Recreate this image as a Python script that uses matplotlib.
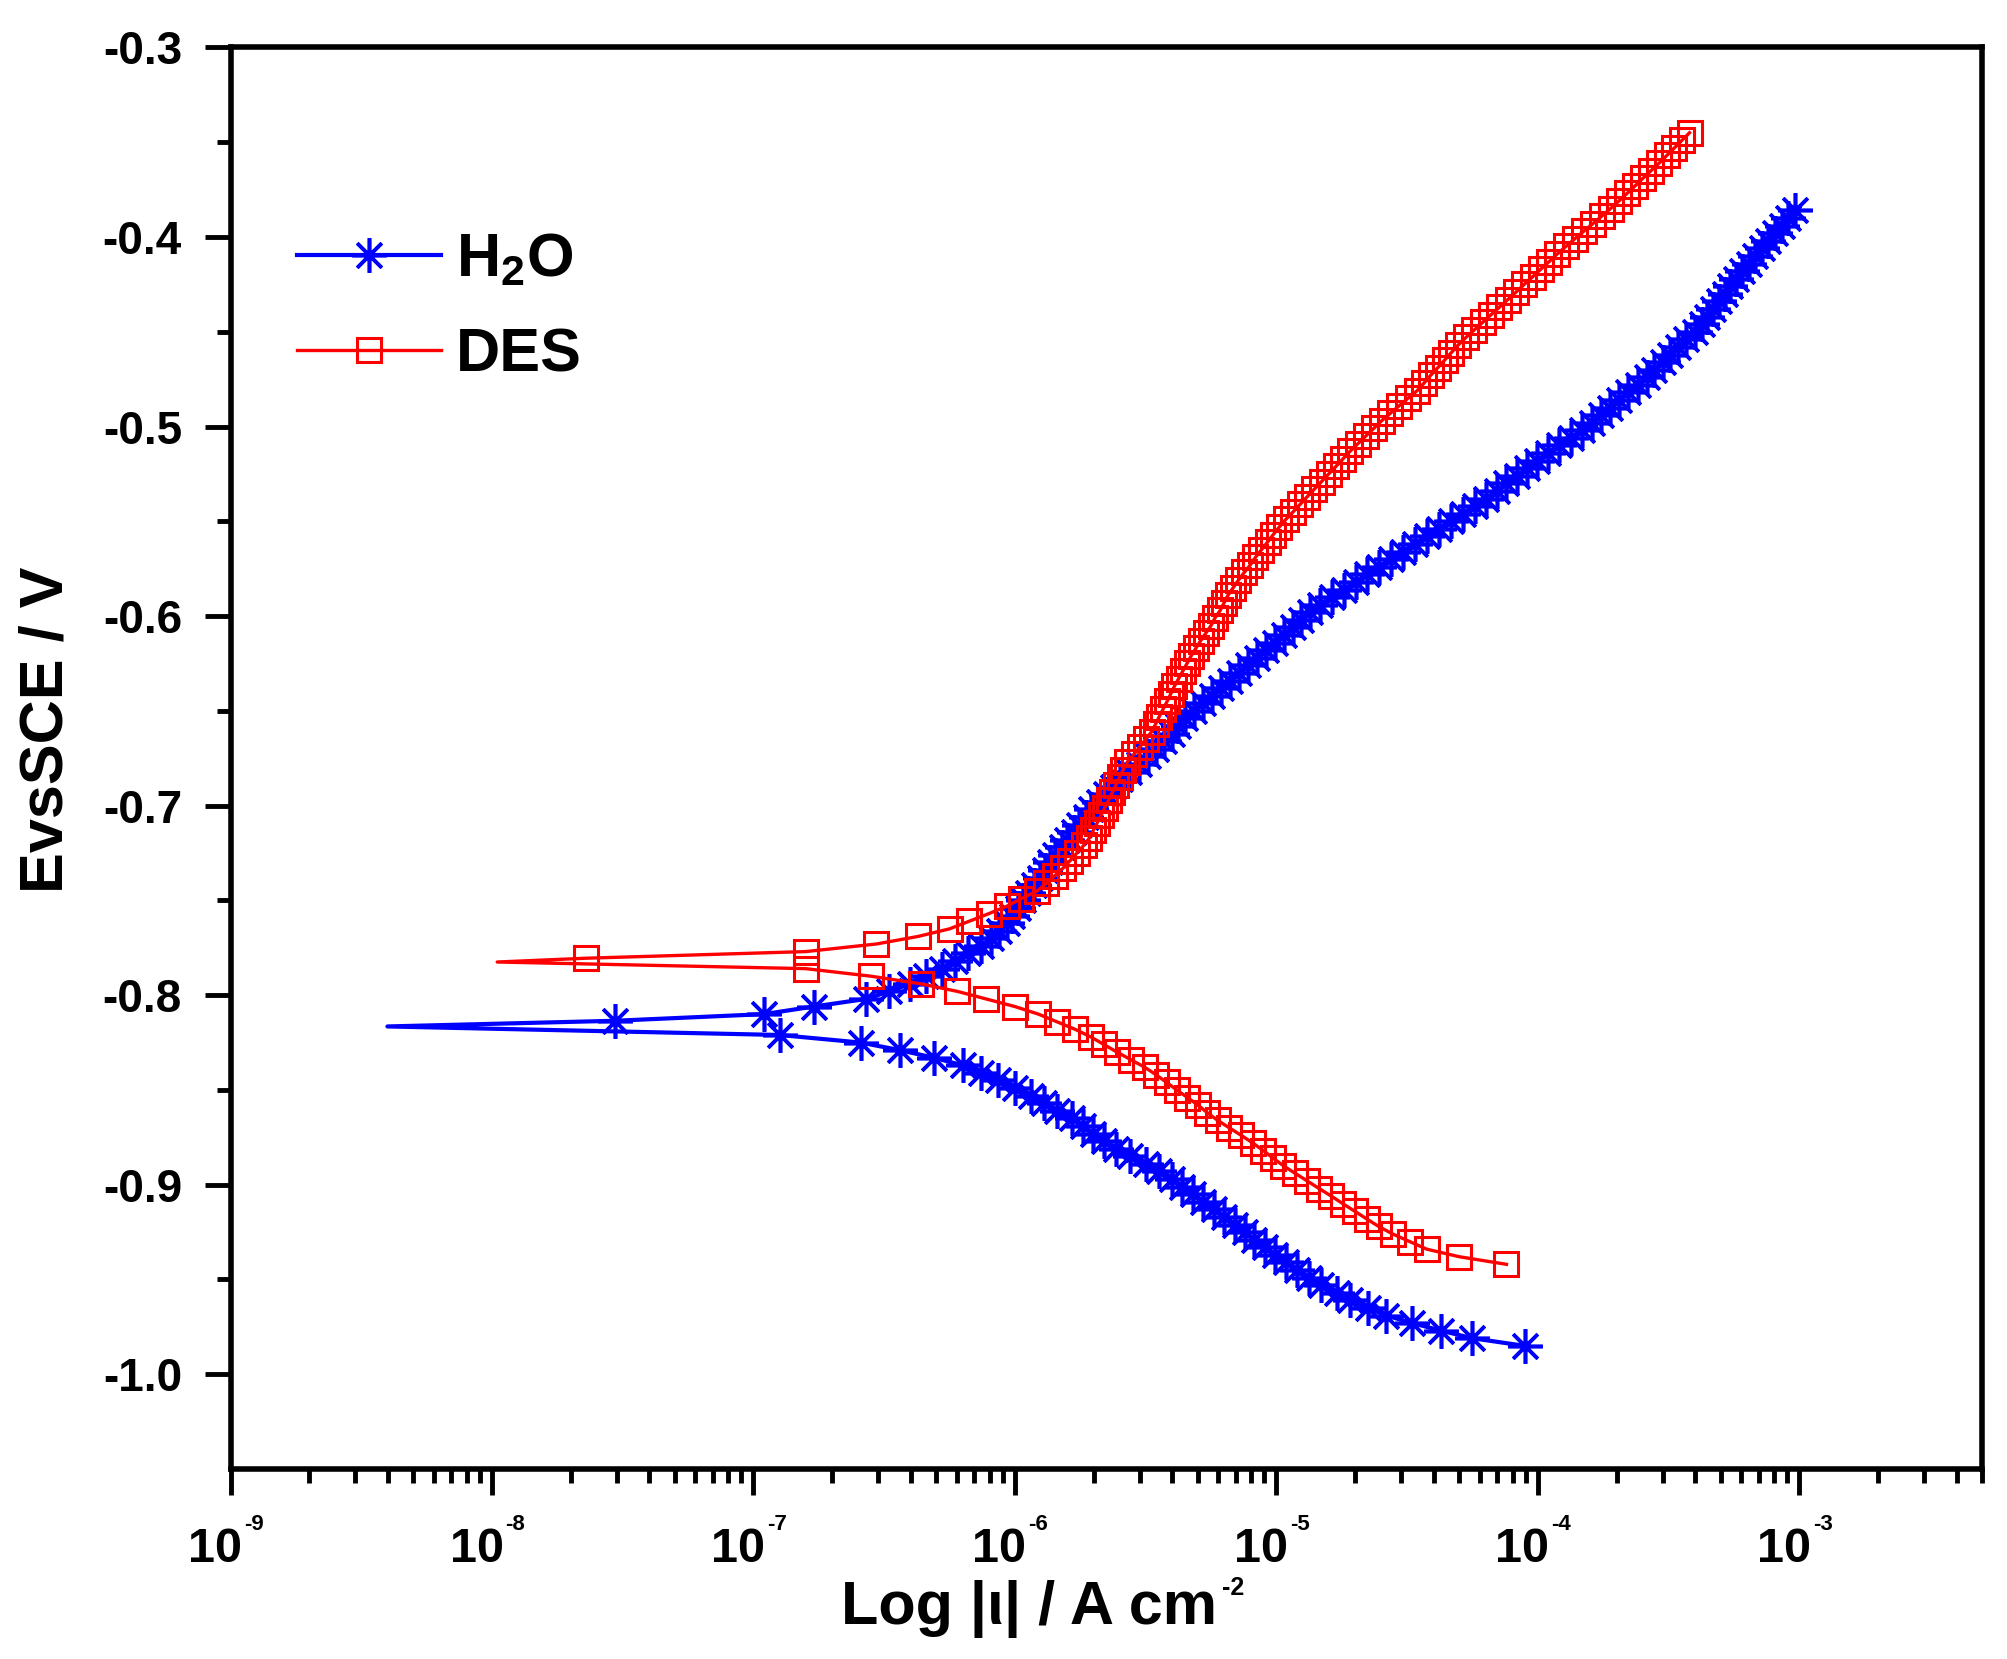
import numpy as np
import matplotlib
matplotlib.use('Agg')
import matplotlib.pyplot as plt
from matplotlib.lines import Line2D
from matplotlib.ticker import LogLocator, NullFormatter
from matplotlib.transforms import blended_transform_factory, ScaledTranslation

plt.rcParams['font.family'] = ['Liberation Sans', 'DejaVu Sans']
plt.rcParams['font.weight'] = 'bold'
plt.rcParams['mathtext.fontset'] = 'custom'
plt.rcParams['mathtext.rm'] = 'Liberation Sans:bold'
plt.rcParams['mathtext.bf'] = 'Liberation Sans:bold'
plt.rcParams['mathtext.it'] = 'Liberation Sans:bold'
plt.rcParams['mathtext.default'] = 'rm'

# ── data: (E vs SCE / V, log10 |i| / A cm-2) ─────────────────────────────────
# H2O, cathodic branch (most negative E first)
h2o_cathodic = [
    (-0.985, -4.05), (-0.981, -4.25), (-0.977, -4.37), (-0.973, -4.48),
    (-0.969, -4.58), (-0.965, -4.65), (-0.961, -4.72), (-0.957, -4.77),
    (-0.953, -4.83), (-0.949, -4.875), (-0.945, -4.92), (-0.941, -4.965),
    (-0.937, -5.005), (-0.933, -5.045), (-0.929, -5.085), (-0.925, -5.12),
    (-0.921, -5.16), (-0.917, -5.20), (-0.913, -5.24), (-0.909, -5.28),
    (-0.905, -5.32), (-0.901, -5.36), (-0.897, -5.40), (-0.893, -5.45),
    (-0.889, -5.50), (-0.885, -5.56), (-0.881, -5.615), (-0.877, -5.66),
    (-0.873, -5.70), (-0.869, -5.74), (-0.865, -5.78), (-0.861, -5.84),
    (-0.857, -5.89), (-0.853, -5.94), (-0.849, -6.00), (-0.845, -6.065),
    (-0.841, -6.13), (-0.837, -6.20), (-0.833, -6.31), (-0.829, -6.44),
    (-0.825, -6.59), (-0.821, -6.90),
]
# H2O, around Ecorr (first point = current minimum, drawn without marker)
h2o_corr = [(-0.8165, -8.40), (-0.8135, -7.53)]
# H2O, anodic branch
h2o_anodic = [
    (-0.810, -6.96), (-0.806, -6.77), (-0.802, -6.57), (-0.798, -6.48),
    (-0.794, -6.40), (-0.790, -6.34), (-0.786, -6.28), (-0.782, -6.23),
    (-0.778, -6.18), (-0.774, -6.13), (-0.770, -6.09), (-0.766, -6.06),
    (-0.762, -6.03), (-0.758, -6.01), (-0.754, -5.99), (-0.750, -5.97),
    (-0.746, -5.95), (-0.742, -5.927), (-0.738, -5.905), (-0.734, -5.885),
    (-0.730, -5.865), (-0.726, -5.845), (-0.722, -5.82), (-0.718, -5.80),
    (-0.714, -5.775), (-0.710, -5.755), (-0.706, -5.73), (-0.702, -5.71),
    (-0.698, -5.68), (-0.694, -5.65), (-0.690, -5.625), (-0.686, -5.60),
    (-0.682, -5.565), (-0.678, -5.525), (-0.674, -5.49), (-0.670, -5.46),
    (-0.666, -5.43), (-0.662, -5.40), (-0.658, -5.377), (-0.654, -5.348),
    (-0.650, -5.315), (-0.646, -5.28), (-0.642, -5.246), (-0.638, -5.212),
    (-0.634, -5.178), (-0.630, -5.144), (-0.626, -5.11), (-0.622, -5.075),
    (-0.618, -5.04), (-0.614, -5.006), (-0.610, -4.972), (-0.606, -4.938),
    (-0.602, -4.904), (-0.598, -4.87), (-0.594, -4.834), (-0.590, -4.788),
    (-0.586, -4.743), (-0.582, -4.697), (-0.578, -4.652), (-0.574, -4.607),
    (-0.570, -4.561), (-0.566, -4.515), (-0.562, -4.47), (-0.558, -4.424),
    (-0.554, -4.38), (-0.550, -4.333), (-0.546, -4.288), (-0.542, -4.24),
    (-0.538, -4.197), (-0.534, -4.158), (-0.530, -4.12), (-0.526, -4.08),
    (-0.522, -4.042), (-0.518, -4.003), (-0.514, -3.963), (-0.510, -3.919),
    (-0.506, -3.875), (-0.502, -3.83), (-0.498, -3.794), (-0.494, -3.76),
    (-0.490, -3.725), (-0.486, -3.691), (-0.482, -3.655), (-0.478, -3.618),
    (-0.474, -3.584), (-0.470, -3.554), (-0.466, -3.523), (-0.462, -3.493),
    (-0.458, -3.463), (-0.454, -3.432), (-0.450, -3.40), (-0.446, -3.374),
    (-0.442, -3.352), (-0.438, -3.33), (-0.434, -3.308), (-0.430, -3.286),
    (-0.426, -3.264), (-0.422, -3.242), (-0.418, -3.218), (-0.414, -3.193),
    (-0.410, -3.168), (-0.406, -3.143), (-0.402, -3.118), (-0.398, -3.093),
    (-0.394, -3.068), (-0.390, -3.043), (-0.386, -3.018),
]

# DES, cathodic branch
des_cathodic = [
    (-0.942, -4.12), (-0.938, -4.30), (-0.934, -4.425), (-0.930, -4.49),
    (-0.926, -4.555), (-0.922, -4.609), (-0.918, -4.655), (-0.914, -4.70),
    (-0.910, -4.746), (-0.906, -4.79), (-0.902, -4.837), (-0.898, -4.882),
    (-0.894, -4.928), (-0.890, -4.973), (-0.886, -5.012), (-0.882, -5.05),
    (-0.878, -5.09), (-0.874, -5.134), (-0.870, -5.18), (-0.866, -5.225),
    (-0.862, -5.264), (-0.858, -5.30), (-0.854, -5.34), (-0.850, -5.381),
    (-0.846, -5.42), (-0.842, -5.46), (-0.838, -5.504), (-0.834, -5.557),
    (-0.830, -5.61), (-0.826, -5.66), (-0.822, -5.71), (-0.818, -5.77),
    (-0.814, -5.84), (-0.810, -5.91), (-0.806, -6.00), (-0.802, -6.11),
    (-0.798, -6.22), (-0.794, -6.36), (-0.790, -6.55), (-0.786, -6.80),
]
des_corr = [(-0.7825, -7.98), (-0.7805, -7.64)]
des_anodic = [
    (-0.777, -6.80), (-0.773, -6.53), (-0.769, -6.37), (-0.765, -6.25),
    (-0.761, -6.175), (-0.757, -6.10), (-0.753, -6.03), (-0.749, -5.975),
    (-0.745, -5.915), (-0.741, -5.88), (-0.737, -5.848), (-0.733, -5.816),
    (-0.729, -5.789), (-0.725, -5.763), (-0.721, -5.737), (-0.717, -5.715),
    (-0.713, -5.70), (-0.709, -5.685), (-0.705, -5.67), (-0.701, -5.656),
    (-0.697, -5.641), (-0.693, -5.627), (-0.689, -5.613), (-0.685, -5.60),
    (-0.681, -5.586), (-0.677, -5.57), (-0.673, -5.546), (-0.669, -5.522),
    (-0.665, -5.50), (-0.661, -5.477), (-0.657, -5.462), (-0.653, -5.448),
    (-0.649, -5.433), (-0.645, -5.418), (-0.641, -5.404), (-0.637, -5.39),
    (-0.633, -5.374), (-0.629, -5.358), (-0.625, -5.342), (-0.621, -5.326),
    (-0.617, -5.308), (-0.613, -5.29), (-0.609, -5.27), (-0.605, -5.25),
    (-0.601, -5.235), (-0.597, -5.215), (-0.593, -5.20), (-0.589, -5.185),
    (-0.585, -5.165), (-0.581, -5.145), (-0.577, -5.123), (-0.573, -5.10),
    (-0.569, -5.08), (-0.565, -5.057), (-0.561, -5.034), (-0.557, -5.012),
    (-0.553, -4.989), (-0.549, -4.964), (-0.545, -4.936), (-0.541, -4.909),
    (-0.537, -4.882), (-0.533, -4.855), (-0.529, -4.827), (-0.525, -4.80),
    (-0.521, -4.772), (-0.517, -4.745), (-0.513, -4.718), (-0.509, -4.688),
    (-0.505, -4.658), (-0.501, -4.628), (-0.497, -4.598), (-0.493, -4.564),
    (-0.489, -4.53), (-0.485, -4.496), (-0.481, -4.461), (-0.477, -4.435),
    (-0.473, -4.41), (-0.469, -4.383), (-0.465, -4.357), (-0.461, -4.331),
    (-0.457, -4.305), (-0.453, -4.275), (-0.449, -4.243), (-0.445, -4.211),
    (-0.441, -4.179), (-0.437, -4.147), (-0.433, -4.115), (-0.429, -4.083),
    (-0.425, -4.052), (-0.421, -4.02), (-0.417, -3.989), (-0.413, -3.957),
    (-0.409, -3.926), (-0.405, -3.893), (-0.401, -3.859), (-0.397, -3.825),
    (-0.393, -3.79), (-0.389, -3.756), (-0.385, -3.722), (-0.381, -3.69),
    (-0.377, -3.659), (-0.373, -3.628), (-0.369, -3.598), (-0.365, -3.567),
    (-0.361, -3.536), (-0.357, -3.507), (-0.353, -3.478), (-0.349, -3.449),
    (-0.345, -3.42),
]

x_major = [1e-9, 1e-8, 1e-7, 1e-6, 1e-5, 1e-4, 1e-3]
x_exponents = ['-9', '-8', '-7', '-6', '-5', '-4', '-3']
y_major = [-1.0, -0.9, -0.8, -0.7, -0.6, -0.5, -0.4, -0.3]
y_minor = [-0.95, -0.85, -0.75, -0.65, -0.55, -0.45, -0.35]


def curve(cath, corr, anod):
    pts = np.array(cath + corr + anod)
    cur = 10.0 ** pts[:, 1]
    pot = pts[:, 0]
    keep = np.ones(len(pts), dtype=bool)
    keep[len(cath)] = False          # current minimum carries no marker
    return cur, pot, keep


fig = plt.figure(figsize=(20.08, 16.59), dpi=100)
fig.patch.set_facecolor('white')
ax = fig.add_axes([0.1148, 0.1145, 0.8723, 0.8569])

blue = '#0000FF'
red = '#FF0000'
star = (8, 2, 0)

i_w, e_w, m_w = curve(h2o_cathodic, h2o_corr, h2o_anodic)
i_d, e_d, m_d = curve(des_cathodic, des_corr, des_anodic)

ax.plot(i_w, e_w, color=blue, lw=3.0, zorder=2)
ax.plot(i_w[m_w], e_w[m_w], ls='none', marker=star, ms=25, mew=2.6,
        color=blue, zorder=2)
ax.plot(i_d, e_d, color=red, lw=2.4, zorder=3)
ax.plot(i_d[m_d], e_d[m_d], ls='none', marker='s', ms=17, mew=2.2,
        mfc='none', mec=red, zorder=3)

ax.set_xscale('log')
ax.set_xlim(1e-9, 5e-3)
ax.set_ylim(-1.05, -0.3)

ax.set_xticks(x_major)
ax.set_xticklabels([])
ax.xaxis.set_minor_locator(LogLocator(base=10, subs=np.arange(2, 10), numticks=20))
ax.xaxis.set_minor_formatter(NullFormatter())
ax.set_yticks(y_major)
ax.set_yticklabels(['%.1f' % v for v in y_major])
ax.set_yticks(y_minor, minor=True)

ax.tick_params(which='both', direction='out', top=False, right=False, width=3.5)
ax.tick_params(which='major', length=19)
ax.tick_params(which='minor', length=10)
ax.tick_params(axis='y', labelsize=33, pad=16)
for sp in ax.spines.values():
    sp.set_linewidth(4)

# x tick labels: big "10" with a small raised exponent
xt = blended_transform_factory(ax.transData, ax.transAxes)
for xv, ex in zip(x_major, x_exponents):
    ax.text(xv, 0, '10', fontsize=35, fontweight='bold', ha='right', va='baseline',
            transform=xt + ScaledTranslation(8.3 / 72, -67 / 72, fig.dpi_scale_trans),
            clip_on=False)
    ax.text(xv, 0, ex, fontsize=16, fontweight='bold', ha='left', va='baseline',
            transform=xt + ScaledTranslation(9.7 / 72, -44 / 72, fig.dpi_scale_trans),
            clip_on=False)

ax.set_xlabel('Log |ι| / A cm', fontsize=44, fontweight='bold',
              ha='right', va='baseline')
ax.xaxis.set_label_coords(0.5632, -0.109)
ax.text(0.5660, -0.0888, '-2', transform=ax.transAxes, fontsize=18,
        fontweight='bold', ha='left', va='baseline', clip_on=False)

ax.set_ylabel('EvsSCE / V', fontsize=44, fontweight='bold', va='center', ha='center')
ax.yaxis.set_label_coords(-0.105, 0.52)

handles = [
    Line2D([], [], color=blue, lw=3.0, marker=star, ms=25, mew=2.6),
    Line2D([], [], color=red, lw=2.4, marker='s', ms=17, mew=2.2,
           mfc='none', mec=red),
]
ax.legend(handles, ['H$_2$O', 'DES'], loc='upper left',
          bbox_to_anchor=(0.038, 0.870), frameon=False, fontsize=44,
          handlelength=2.35, handletextpad=0.25, labelspacing=0.62,
          borderpad=0, borderaxespad=0, numpoints=1)

fig.savefig('out.png', dpi=100, facecolor='white')
